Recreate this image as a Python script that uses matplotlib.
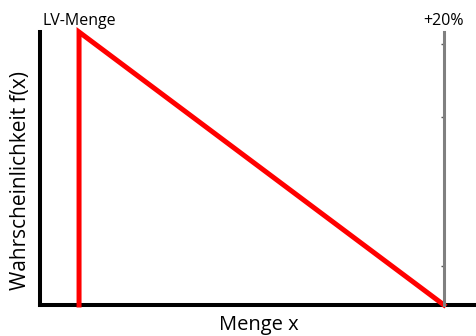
import matplotlib
matplotlib.use("Agg")
import matplotlib.pyplot as plt

# Data
x_line = [100, 100, 120]          # LV-Menge -> +20%
y_line = [0.0, 1.0, 0.0]          # triangular density
marker_labels = ["LV-Menge", "+20%"]
marker_x = [100, 120]
gray_ticks = [0.956, 0.689, 0.143]

plt.rcParams['font.family'] = ['Open Sans', 'DejaVu Sans']

W, H = 477, 336
fig = plt.figure(figsize=(W / 100, H / 100), dpi=100)
ax = fig.add_axes([40 / W, (H - 305) / H, 1 - 40 / W, (305 - 32) / H])

ax.set_xlim(97.86, 121.81)
ax.set_ylim(0, 1)

ax.plot(x_line, y_line, color='#ff0000', lw=3.6, clip_on=False,
        solid_joinstyle='miter', zorder=3)

# gray secondary axis at +20%
ax2 = ax.twinx()
ax2.set_ylim(0, 1)
ax2.spines['right'].set_position(('data', 120))
for s in ['top', 'left', 'bottom']:
    ax2.spines[s].set_visible(False)
ax2.spines['right'].set_color('#808080')
ax2.spines['right'].set_linewidth(2.2)
ax2.set_yticks(gray_ticks)
ax2.tick_params(axis='y', direction='in', length=2, width=1, color='#555555',
                labelright=False)
ax2.set_xlim(ax.get_xlim())

for s in ['top', 'right']:
    ax.spines[s].set_visible(False)
for s in ['left', 'bottom']:
    ax.spines[s].set_color('black')
    ax.spines[s].set_linewidth(2.9)
ax.set_xticks([])
ax.set_yticks([])

ax.set_xlabel('Menge x', fontsize=14.5, labelpad=7)
ax.set_ylabel('Wahrscheinlichkeit f(x)', fontsize=15)
ax.yaxis.set_label_coords(-9 / 437, 0.455)

for lab, xv in zip(marker_labels, marker_x):
    ax.text(xv, 1.0 + 11 / 273, lab, ha='center', va='center', fontsize=11.5)

fig.savefig('out.png', dpi=100)
